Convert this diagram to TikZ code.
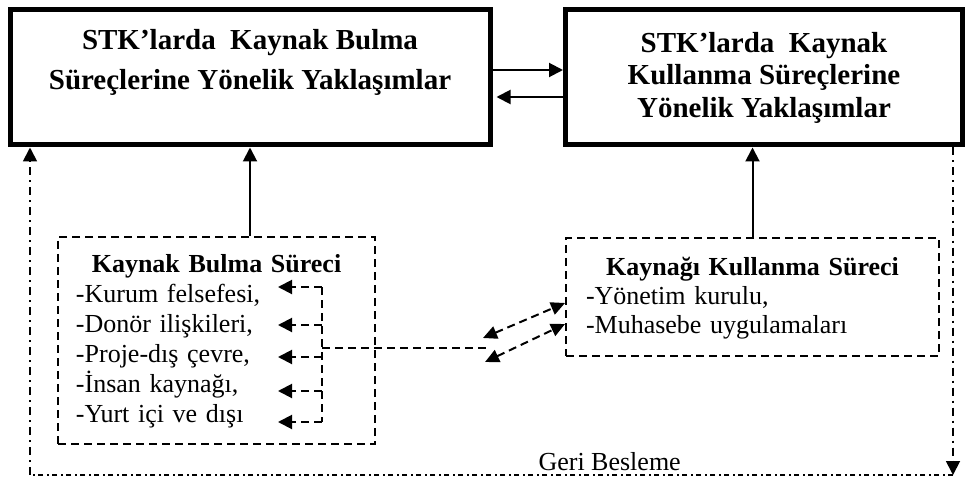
\documentclass[tikz,border=0pt]{standalone}
\usepackage{fontspec}
\setmainfont{Liberation Serif}
\usetikzlibrary{arrows.meta, matrix, positioning}

\tikzset{
  arrowhead/.style = {-{Triangle[length = 14pt, width = 14pt]}},
  arrowheads/.style = {
    {Triangle[length = 14pt, width = 13pt]}-{Triangle[length = 14pt, width = 13pt]}
  }
}

\begin{document}
\begin{tikzpicture}[
    x = 1pt, y = -1pt,
    boxtext/.style = {
      font = \fontsize{29}{40}\selectfont\bfseries, align = center
    },
    bigbox/.style = {
      rectangle, draw, line width = 5pt, minimum height = 135pt,
      inner sep = 0pt, boxtext
    },
    solid line/.style = {line width = 2pt},
    dashed line/.style = {line width = 2pt, dash pattern = on 8pt off 5pt},
    feedback/.style = {
      line width = 1.8pt, dash pattern = on 8pt off 5pt on 2pt off 5pt
    },
    feedback base/.style = {
      line width = 1.8pt, dash pattern = on 5pt off 3.5pt on 2pt off 3.5pt
    },
    listbox/.style = {
      matrix of nodes, draw, dashed line, row sep = 0pt, anchor = north west,
      nodes = {
        inner sep = 0pt, align = left, text height = 22pt,
        font = \fontsize{26}{30}\selectfont
      },
      row 1/.style = {
        nodes = {align = center, font = \fontsize{26}{30}\selectfont\bfseries}
      }
    }
  ]
  \useasboundingbox (0, 0) rectangle (966, 481);

  \node [bigbox, minimum width = 480pt, label = {[boxtext, yshift = 15pt]
    center:{STK’larda\ \ Kaynak Bulma\\Süreçlerine Yönelik Yaklaşımlar}}]
    (finding) at (250, 77.5) {};
  \node [bigbox, minimum width = 397pt, right = 70.5pt of finding,
    font = \fontsize{29}{32.5}\selectfont\bfseries] (using)
    {STK’larda\ \ Kaynak\\Kullanma Süreçlerine\\Yönelik Yaklaşımlar};

  \matrix [listbox, inner xsep = 18pt, inner ysep = 13.5pt,
    nodes = {text width = 281pt, text depth = 8pt}] (finding-list) at (57, 236) {
      Kaynak Bulma Süreci \\
      -Kurum felsefesi, \\
      -Donör ilişkileri, \\
      -Proje-dış çevre, \\
      -İnsan kaynağı, \\
      -Yurt içi ve dışı \\
  };
  \matrix [listbox, inner xsep = 20pt, inner ysep = 15.5pt,
    nodes = {text width = 333pt, text depth = 7pt}] (using-list) at (565, 237) {
      Kaynağı Kullanma Süreci \\
      -Yönetim kurulu, \\
      -Muhasebe uygulamaları \\
  };

  \draw [solid line, arrowhead] ([yshift = 7.5pt] finding.east)
    -- ([yshift = 7.5pt] finding.east -| using.west);
  \draw [solid line, arrowhead, shorten > = 4pt] ([yshift = -19.5pt] using.west)
    -- ([yshift = -19.5pt] using.west -| finding.east);
  \draw [solid line, arrowhead] (finding-list.north -| finding.south)
    -- (finding.south);
  \draw [solid line, arrowhead] (using-list.north)
    -- (using-list.north |- using.south);

  \foreach \y [count = \i] in {287, 325, 357, 391, 422} {
    \coordinate (bus-\i) at (322, \y);
    \draw [dashed line, arrowhead] (bus-\i) -- ++(-44, 0);
  }
  \draw [dashed line] (bus-1) -- (bus-5);
  \coordinate (bus-mid) at (322, 348);
  \coordinate (bus-end) at (487, 348);
  \draw [dashed line] (bus-mid) -- (bus-end);
  \draw [dashed line, arrowheads] ([shift = {(-4pt, 10pt)}] bus-end)
    -- ([yshift = -6pt] using-list.west);
  \draw [dashed line, arrowheads] ([shift = {(-2pt, -14pt)}] bus-end)
    -- ([yshift = -27pt] using-list.west);

  \coordinate (loop-left) at (30, 475);
  \coordinate (loop-right) at (953, 475);
  \draw [feedback, arrowhead] (loop-right |- using.south) -- (loop-right);
  \draw [feedback base] (loop-right)
    -- node [pos = 0.372, above, font = \fontsize{26}{30}\selectfont]
      (loop-label) {Geri Besleme}
    (loop-left);
  \draw [feedback, arrowhead] (loop-left) -- (loop-left |- finding.south);
\end{tikzpicture}
\end{document}
